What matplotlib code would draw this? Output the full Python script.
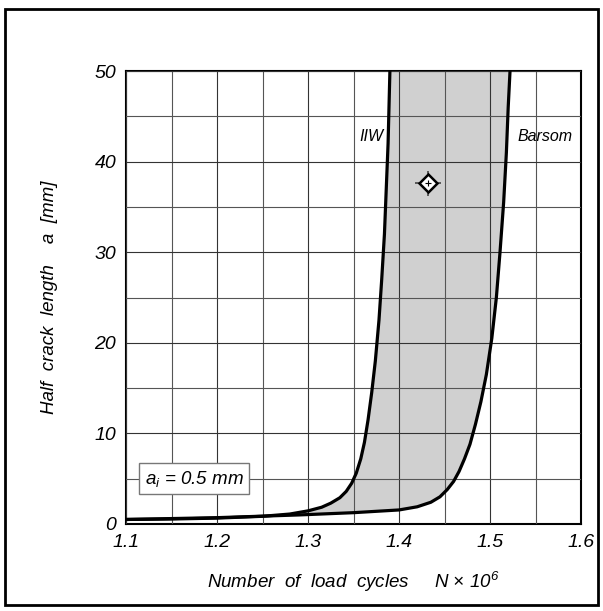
import numpy as np
import matplotlib
matplotlib.use('Agg')
import matplotlib.pyplot as plt
from matplotlib.patches import Rectangle

plt.rcParams['font.family'] = 'Liberation Sans'
plt.rcParams['font.style'] = 'italic'
plt.rcParams['mathtext.fontset'] = 'custom'
plt.rcParams['mathtext.rm'] = 'Liberation Sans:italic'
plt.rcParams['mathtext.it'] = 'Liberation Sans:italic'

# crack growth curves (N in 10^6 cycles, a in mm)
N_iiw = [1.10, 1.15, 1.20, 1.25, 1.28, 1.30, 1.315, 1.325, 1.335, 1.342,
         1.348, 1.353, 1.358, 1.362, 1.366, 1.370, 1.374, 1.378, 1.381,
         1.384, 1.386, 1.388, 1.389, 1.390]
a_iiw = [0.5, 0.55, 0.65, 0.85, 1.1, 1.45, 1.85, 2.3, 2.9, 3.6,
         4.5, 5.6, 7.2, 9.0, 11.5, 14.5, 18.0, 22.5, 27.0,
         32.0, 37.0, 42.0, 46.0, 50.0]
N_bar = [1.10, 1.20, 1.29, 1.35, 1.40, 1.42, 1.435, 1.445, 1.453, 1.460,
         1.466, 1.472, 1.478, 1.484, 1.490, 1.496, 1.502, 1.507, 1.511,
         1.515, 1.518, 1.520, 1.522]
a_bar = [0.5, 0.7, 1.0, 1.25, 1.55, 1.9, 2.4, 3.0, 3.8, 4.7,
         5.8, 7.2, 8.8, 11.0, 13.5, 16.5, 20.5, 25.0, 30.0,
         35.5, 41.0, 46.0, 50.0]

# test result
N_test = 1.432
a_test = 37.6
N_err = 0.0145
a_err = 1.4

xticks = [1.1, 1.2, 1.3, 1.4, 1.5, 1.6]
yticks = [0, 10, 20, 30, 40, 50]

fig = plt.figure(figsize=(6.03, 6.11), dpi=100)
ax = fig.add_axes([126 / 603, 1 - 524 / 611, 455 / 603, 453 / 611])

# shaded band between the two curves
grid_a = np.linspace(0.5, 50, 600)
ax.fill_betweenx(grid_a, np.interp(grid_a, a_iiw, N_iiw),
                 np.interp(grid_a, a_bar, N_bar),
                 color='#d0d0d0', lw=0, zorder=1)

ax.set_xticks(np.arange(1.1, 1.6001, 0.05), minor=True)
ax.set_yticks(np.arange(0, 50.01, 5), minor=True)
ax.grid(True, which='major', color='#333333', lw=0.8, zorder=2)
ax.grid(True, which='minor', color='#555555', lw=0.8, zorder=2)
ax.set_axisbelow(False)

ax.plot(N_iiw, a_iiw, color='black', lw=2.3, zorder=4,
        solid_joinstyle='round')
ax.plot(N_bar, a_bar, color='black', lw=2.3, zorder=4,
        solid_joinstyle='round')

ax.errorbar(N_test, a_test, xerr=N_err, yerr=a_err, fmt='none',
            ecolor='#444444', elinewidth=1.2, capsize=0, zorder=5)
ax.plot(N_test, a_test, marker='D', ms=9, mfc='white', mec='black',
        mew=1.8, zorder=6)
ax.plot(N_test, a_test, marker='+', ms=5, mec='black', mew=0.8, zorder=7)

ax.text(1.383, 42.8, 'IIW', ha='right', va='center', fontsize=11.5)
ax.text(1.530, 42.8, 'Barsom', ha='left', va='center', fontsize=11.5)
ax.text(1.175, 5.0, '$a_i$ = 0.5 mm', ha='center', va='center', fontsize=13.5,
        bbox=dict(boxstyle='square,pad=0.3', fc='white', ec='#777777', lw=1),
        zorder=8)

ax.set_xlim(1.1, 1.6)
ax.set_ylim(0, 50)
ax.set_xticks(xticks)
ax.set_xticklabels([str(v) for v in xticks])
ax.set_yticks(yticks)
ax.tick_params(which='both', length=0, labelsize=14, pad=7)
for s in ax.spines.values():
    s.set_linewidth(1.5)

ax.set_xlabel('Number  of  load  cycles     N $\\times$ 10$^6$',
              fontsize=13.5, labelpad=14)
ax.set_ylabel('Half  crack  length    a  [mm]', fontsize=13.5, labelpad=26)

fig.patches.append(Rectangle((5 / 603, 6 / 611), 593 / 603, 596 / 611,
                             transform=fig.transFigure, fill=False,
                             ec='black', lw=2))

fig.savefig('out.png', dpi=100)
